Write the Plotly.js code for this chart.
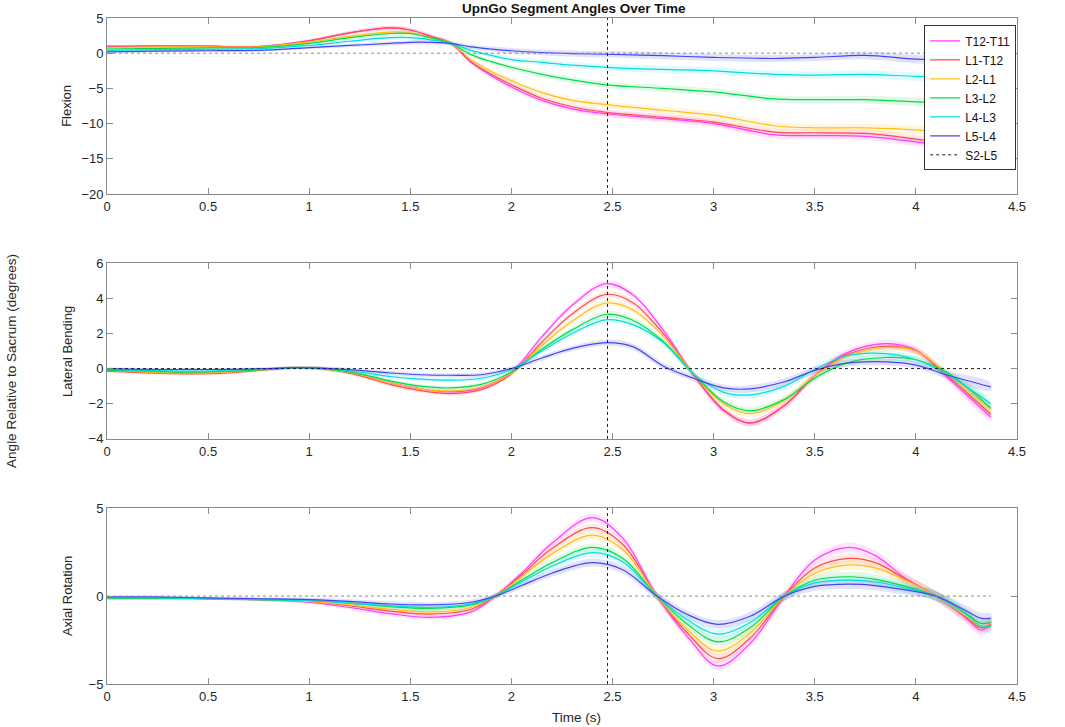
<!DOCTYPE html>
<html>
<head>
<meta charset="utf-8">
<script src="https://cdn.plot.ly/plotly-3.0.1.min.js"></script>
<style>
  html, body { margin: 0; padding: 0; background: #fff; }
  #chart { width: 1065px; height: 727px; }
</style>
</head>
<body>
<div id="chart"></div>
<script>
// segment names and colours, in legend order
const segments = ["T12-T11", "L1-T12", "L2-L1", "L3-L2", "L4-L3", "L5-L4"];
const lineColors = ["#ff3dff", "#ff4d4d", "#ffbf1a", "#00dd44", "#00dede", "#4646f0"];
const bandColors = [
  "rgba(255,80,255,0.16)", "rgba(255,110,110,0.16)", "rgba(255,200,60,0.18)",
  "rgba(60,220,110,0.16)", "rgba(80,230,230,0.18)", "rgba(110,110,235,0.20)"
];
const markerTime = 2.475;   // vertical dotted line
const endTime = 4.37;

// Flexion
const flexTime = [0, 0.25, 0.5, 0.75, 1.0, 1.2, 1.4, 1.5, 1.6, 1.7, 1.8, 1.9, 2.0, 2.15, 2.3, 2.47, 2.75, 3.0, 3.3, 3.5, 3.75, 4.0, 4.2, 4.37];
const flexT12T11 = [0.9, 1.0, 1.0, 0.95, 1.8, 2.9, 3.6, 3.3, 2.4, 1.4, -1.3, -3.2, -4.8, -6.7, -7.9, -8.6, -9.3, -10.0, -11.6, -11.7, -11.8, -12.6, -13.5, -14.6];
const flexL1T12 = [1.0, 1.05, 1.0, 0.95, 1.75, 2.9, 3.6, 3.3, 2.4, 1.4, -1.2, -3.0, -4.5, -6.4, -7.6, -8.4, -9.1, -9.8, -11.2, -11.3, -11.4, -12.2, -13.0, -13.8];
const flexL2L1 = [0.8, 0.9, 0.9, 0.9, 1.6, 2.4, 3.0, 2.9, 2.2, 1.4, -0.9, -2.6, -3.9, -5.6, -6.7, -7.3, -8.1, -8.8, -10.3, -10.6, -10.6, -10.9, -11.6, -12.4];
const flexL3L2 = [0.6, 0.7, 0.75, 0.8, 1.4, 2.2, 2.8, 2.8, 2.2, 1.4, -0.2, -1.2, -2.0, -3.0, -3.8, -4.5, -5.0, -5.5, -6.5, -6.6, -6.6, -6.9, -7.0, -7.0];
const flexL4L3 = [0.4, 0.5, 0.55, 0.65, 1.1, 1.7, 2.2, 2.2, 1.9, 1.4, 0.4, -0.3, -0.9, -1.3, -1.7, -2.0, -2.3, -2.5, -3.0, -3.1, -3.0, -3.3, -3.4, -3.3];
const flexL5L4 = [0.2, 0.3, 0.35, 0.4, 0.8, 1.1, 1.4, 1.55, 1.55, 1.4, 0.9, 0.6, 0.35, 0.1, -0.05, -0.15, -0.35, -0.6, -0.75, -0.6, -0.3, -0.85, -1.0, -1.1];
const flexSpread = [0.15, 0.15, 0.15, 0.15, 0.2, 0.25, 0.3, 0.3, 0.3, 0.3, 0.3, 0.35, 0.4, 0.4, 0.45, 0.45, 0.5, 0.5, 0.5, 0.5, 0.55, 0.6, 0.6, 0.6];

// Lateral Bending
const latTime = [0, 0.2, 0.4, 0.6, 0.8, 0.95, 1.1, 1.25, 1.4, 1.55, 1.7, 1.85, 2.0, 2.15, 2.3, 2.47, 2.6, 2.75, 2.9, 3.05, 3.18, 3.35, 3.5, 3.65, 3.85, 4.0, 4.15, 4.37];
const latT12T11 = [-0.1, -0.2, -0.25, -0.2, -0.05, 0.05, -0.05, -0.35, -0.8, -1.15, -1.33, -1.1, -0.2, 1.8, 3.6, 4.83, 4.2, 2.2, -0.35, -2.4, -3.09, -2.1, -0.4, 0.85, 1.42, 1.05, -0.45, -2.75];
const latL1T12 = [-0.15, -0.25, -0.3, -0.25, -0.05, 0.05, -0.05, -0.4, -0.9, -1.25, -1.42, -1.2, -0.3, 1.5, 3.1, 4.22, 3.75, 2.0, -0.35, -2.35, -3.1, -2.1, -0.4, 0.75, 1.27, 1.0, -0.35, -2.6];
const latL2L1 = [-0.1, -0.2, -0.25, -0.2, -0.05, 0.05, -0.05, -0.35, -0.8, -1.15, -1.27, -1.05, -0.25, 1.3, 2.7, 3.73, 3.35, 1.85, -0.3, -2.0, -2.56, -1.8, -0.4, 0.65, 1.2, 1.0, -0.25, -2.3];
const latL3L2 = [-0.1, -0.15, -0.2, -0.15, -0.05, 0.05, -0.05, -0.3, -0.7, -1.0, -1.1, -0.9, -0.2, 1.1, 2.2, 3.09, 2.75, 1.55, -0.3, -1.9, -2.4, -1.75, -0.55, 0.3, 0.63, 0.5, -0.2, -2.25];
const latL4L3 = [-0.05, -0.1, -0.15, -0.1, 0.0, 0.05, 0.0, -0.2, -0.45, -0.6, -0.66, -0.55, -0.05, 1.0, 2.0, 2.78, 2.5, 1.5, -0.3, -1.35, -1.5, -1.0, -0.05, 0.7, 0.85, 0.5, -0.3, -2.0];
const latL5L4 = [0.0, -0.05, -0.05, -0.05, 0.0, 0.05, 0.0, -0.1, -0.25, -0.35, -0.38, -0.35, 0.0, 0.6, 1.15, 1.48, 1.25, 0.15, -0.55, -1.1, -1.15, -0.75, -0.1, 0.3, 0.38, 0.2, -0.35, -1.04];
const latSpread = [0.08, 0.08, 0.08, 0.08, 0.08, 0.08, 0.1, 0.1, 0.12, 0.12, 0.12, 0.12, 0.12, 0.15, 0.15, 0.18, 0.18, 0.18, 0.18, 0.18, 0.2, 0.2, 0.2, 0.2, 0.2, 0.2, 0.22, 0.22];

// Axial Rotation
const axTime = [0, 0.25, 0.5, 0.75, 1.0, 1.2, 1.4, 1.6, 1.8, 1.92, 2.05, 2.2, 2.4, 2.55, 2.72, 2.87, 3.02, 3.18, 3.35, 3.5, 3.67, 3.8, 3.95, 4.1, 4.25, 4.32, 4.37];
const axT12T11 = [-0.1, -0.1, -0.15, -0.2, -0.35, -0.65, -1.0, -1.21, -0.9, 0.0, 1.3, 3.0, 4.46, 3.3, 0.0, -2.3, -3.97, -2.7, 0.0, 2.05, 2.77, 2.3, 1.0, 0.0, -1.27, -1.93, -1.65];
const axL1T12 = [-0.1, -0.1, -0.15, -0.2, -0.3, -0.55, -0.85, -1.02, -0.75, 0.0, 1.2, 2.7, 3.89, 2.95, 0.0, -2.1, -3.55, -2.4, 0.0, 1.6, 2.14, 1.9, 0.95, 0.0, -1.2, -1.8, -1.6];
const axL2L1 = [-0.1, -0.1, -0.15, -0.2, -0.3, -0.5, -0.75, -0.9, -0.65, 0.0, 1.1, 2.4, 3.47, 2.65, 0.0, -1.9, -3.13, -2.1, 0.0, 1.3, 1.77, 1.6, 0.9, 0.0, -1.15, -1.7, -1.55];
const axL3L2 = [-0.15, -0.15, -0.15, -0.2, -0.25, -0.4, -0.6, -0.7, -0.5, 0.0, 0.9, 1.9, 2.77, 2.15, 0.0, -1.6, -2.6, -1.8, 0.0, 0.9, 1.1, 0.95, 0.55, 0.0, -1.0, -1.55, -1.5];
const axL4L3 = [-0.1, -0.1, -0.15, -0.2, -0.25, -0.4, -0.55, -0.65, -0.45, 0.0, 0.8, 1.7, 2.47, 1.95, 0.0, -1.35, -2.16, -1.5, 0.0, 0.75, 0.91, 0.8, 0.45, 0.0, -1.05, -1.7, -1.75];
const axL5L4 = [-0.05, -0.05, -0.1, -0.15, -0.2, -0.3, -0.45, -0.5, -0.35, 0.0, 0.6, 1.3, 1.9, 1.5, 0.0, -1.05, -1.61, -1.15, 0.0, 0.55, 0.68, 0.6, 0.35, 0.0, -0.85, -1.25, -1.27];
const axSpread = [0.06, 0.06, 0.06, 0.08, 0.1, 0.12, 0.15, 0.15, 0.15, 0.15, 0.18, 0.2, 0.22, 0.22, 0.22, 0.22, 0.25, 0.25, 0.25, 0.25, 0.28, 0.28, 0.28, 0.28, 0.3, 0.3, 0.3];

const panels = [
  { time: flexTime, series: [flexT12T11, flexL1T12, flexL2L1, flexL3L2, flexL4L3, flexL5L4], spread: flexSpread, zeroColor: "#8c8c8c" },
  { time: latTime, series: [latT12T11, latL1T12, latL2L1, latL3L2, latL4L3, latL5L4], spread: latSpread, zeroColor: "#222" },
  { time: axTime, series: [axT12T11, axL1T12, axL2L1, axL3L2, axL4L3, axL5L4], spread: axSpread, zeroColor: "#8c8c8c" },
];

const traces = [];
panels.forEach((p, pi) => {
  const xa = pi === 0 ? "x" : "x" + (pi + 1);
  const ya = pi === 0 ? "y" : "y" + (pi + 1);

  // shaded bands first so lines sit on top
  p.series.forEach((vals, si) => {
    const upper = vals.map((v, i) => v + p.spread[i]);
    const lower = vals.map((v, i) => v - p.spread[i]);
    traces.push({
      x: p.time.concat(p.time.slice().reverse()),
      y: upper.concat(lower.slice().reverse()),
      xaxis: xa, yaxis: ya,
      type: "scatter", mode: "lines",
      fill: "toself", fillcolor: bandColors[si],
      line: { width: 0, shape: "spline", smoothing: 1 },
      hoverinfo: "skip", showlegend: false,
    });
  });

  p.series.forEach((vals, si) => {
    traces.push({
      x: p.time, y: vals,
      xaxis: xa, yaxis: ya,
      type: "scatter", mode: "lines",
      name: segments[si],
      line: { color: lineColors[si], width: 1.2, shape: "spline", smoothing: 1 },
      showlegend: pi === 0,
    });
  });

  // the black one (middle panel) carries the legend entry
  traces.push({
    x: [0, endTime], y: [0, 0],
    xaxis: xa, yaxis: ya,
    type: "scatter", mode: "lines",
    name: "S2-L5",
    line: { color: p.zeroColor, width: 1, dash: "dot" },
    showlegend: pi === 1,
  });
});

const font = { family: "Liberation Sans, Arial, sans-serif", size: 13, color: "#262626" };

function xAxis(domainAnchor) {
  return {
    range: [0, 4.5], dtick: 0.5, tick0: 0,
    anchor: domainAnchor,
    showgrid: false, zeroline: false,
    showline: true, linecolor: "#8a8a8a", linewidth: 1, mirror: "ticks",
    ticks: "inside", ticklen: 6, tickcolor: "#8a8a8a",
    tickfont: font,
  };
}
function yAxis(domainAnchor, range, dtick, domain) {
  return {
    range: range, dtick: dtick, domain: domain,
    anchor: domainAnchor,
    showgrid: false, zeroline: false,
    showline: true, linecolor: "#8a8a8a", linewidth: 1, mirror: "ticks",
    ticks: "inside", ticklen: 6, tickcolor: "#8a8a8a",
    tickfont: font,
  };
}

const shapes = ["", "2", "3"].map(s => ({
  type: "line", xref: "x" + s, yref: "y" + s + " domain",
  x0: markerTime, x1: markerTime, y0: 0, y1: 1,
  line: { color: "#222", width: 1, dash: "dot" },
}));

const layout = {
  width: 1065, height: 727,
  margin: { l: 107, r: 48, t: 18, b: 43 },
  paper_bgcolor: "#fff", plot_bgcolor: "#fff",
  font: font,
  xaxis: xAxis("y"),
  xaxis2: xAxis("y2"),
  xaxis3: xAxis("y3"),
  yaxis: yAxis("x", [-20, 5], 5, [0.7357, 1]),
  yaxis2: yAxis("x2", [-4, 6], 2, [0.368, 0.632]),
  yaxis3: yAxis("x3", [-5, 5], 5, [0, 0.264]),
  shapes: shapes,
  showlegend: true,
  legend: {
    x: 0.898, y: 0.989, xanchor: "left", yanchor: "top",
    bgcolor: "#fff", bordercolor: "#333", borderwidth: 1,
    font: { family: font.family, size: 12, color: "#111" },
    tracegroupgap: 0, itemwidth: 30,
  },
  annotations: [
    { text: "<b>UpnGo Segment Angles Over Time</b>", xref: "paper", yref: "paper",
      x: 0.513, y: 1.015, xanchor: "center", yanchor: "middle", showarrow: false,
      font: { family: font.family, size: 13.5, color: "#111" } },
    { text: "Flexion", xref: "paper", yref: "paper", x: -0.044, y: 0.868,
      xanchor: "center", yanchor: "middle", textangle: -90, showarrow: false, font: font },
    { text: "Lateral Bending", xref: "paper", yref: "paper", x: -0.044, y: 0.5,
      xanchor: "center", yanchor: "middle", textangle: -90, showarrow: false, font: font },
    { text: "Axial Rotation", xref: "paper", yref: "paper", x: -0.044, y: 0.132,
      xanchor: "center", yanchor: "middle", textangle: -90, showarrow: false, font: font },
    { text: "Angle Relative to Sacrum (degrees)", xref: "paper", yref: "paper", x: -0.1045, y: 0.485,
      xanchor: "center", yanchor: "middle", textangle: -90, showarrow: false,
      font: { family: font.family, size: 13.5, color: "#262626" } },
    { text: "Time (s)", xref: "paper", yref: "paper", x: 0.516, y: -0.05,
      xanchor: "center", yanchor: "middle", showarrow: false,
      font: { family: font.family, size: 13.5, color: "#262626" } },
  ],
};

Plotly.newPlot("chart", traces, layout, { displayModeBar: false, responsive: false });
</script>
</body>
</html>
